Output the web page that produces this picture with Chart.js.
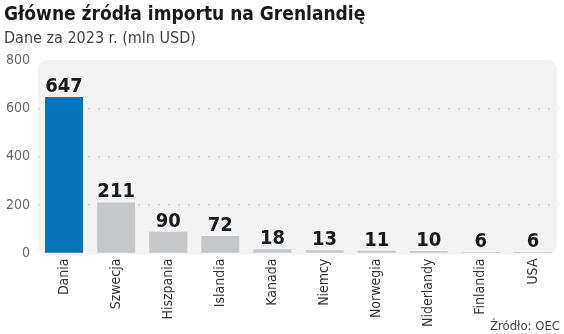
<!DOCTYPE html>
<html>
<head>
<meta charset="utf-8">
<script src="https://cdn.jsdelivr.net/npm/chart.js@4/dist/chart.umd.min.js"></script>
<style>
  html, body { margin: 0; padding: 0; background: #ffffff; }
  #wrap { width: 564px; height: 334px; position: relative; }
</style>
</head>
<body>
<div id="wrap"><canvas id="c" width="564" height="334"></canvas></div>
<script>
// Import sources, 2023, million USD
const countries = ['Dania', 'Szwecja', 'Hiszpania', 'Islandia', 'Kanada', 'Niemcy', 'Norwegia', 'Niderlandy', 'Finlandia', 'USA'];
const importValues = [647, 211, 90, 72, 18, 13, 11, 10, 6, 6];
const yTicks = [0, 200, 400, 600, 800];

const titleText = 'Główne źródła importu na Grenlandię';
const subtitleText = 'Dane za 2023 r. (mln USD)';
const sourceText = 'Źródło: OEC';

const FONT = '"DejaVu Sans Condensed", "DejaVu Sans", sans-serif';
const barColors = countries.map((c, i) => i === 0 ? '#0572b9' : '#c6c7c9');

// Rounded light panel behind the plot
const panelPlugin = {
  id: 'panel',
  beforeDraw(chart) {
    const { ctx, chartArea: a } = chart;
    ctx.save();
    ctx.fillStyle = '#f3f3f3';
    ctx.beginPath();
    ctx.roundRect(a.left, a.top, a.right - a.left - 2, a.bottom - a.top + 1, 9);
    ctx.fill();
    ctx.restore();
  }
};

// Headline, subtitle, source note and value labels
const textPlugin = {
  id: 'texts',
  afterDatasetsDraw(chart) {
    const { ctx } = chart;
    const meta = chart.getDatasetMeta(0);
    const data = chart.data.datasets[0].data;
    ctx.save();
    ctx.textAlign = 'center';
    ctx.textBaseline = 'alphabetic';
    ctx.fillStyle = '#1a1a1a';
    ctx.font = 'bold 20px ' + FONT;
    meta.data.forEach((bar, i) => {
      ctx.fillText(String(data[i]), bar.x, bar.y - 5);
    });
    ctx.restore();
  },
  afterDraw(chart) {
    const { ctx, width } = chart;
    ctx.save();
    ctx.textBaseline = 'alphabetic';
    ctx.textAlign = 'left';
    ctx.fillStyle = '#1a1a1a';
    ctx.font = 'bold 19px ' + FONT;
    ctx.fillText(titleText, 4, 20);
    ctx.fillStyle = '#444444';
    ctx.font = '16px ' + FONT;
    ctx.fillText(subtitleText, 4, 43);
    ctx.textAlign = 'right';
    ctx.font = '13px ' + FONT;
    ctx.fillText(sourceText, width - 4, 330);
    ctx.restore();
  }
};

new Chart(document.getElementById('c'), {
  type: 'bar',
  data: {
    labels: countries,
    datasets: [{
      data: importValues,
      backgroundColor: barColors,
      borderWidth: 0,
      barPercentage: 0.73,
      categoryPercentage: 1.0
    }]
  },
  options: {
    responsive: false,
    animation: false,
    devicePixelRatio: 1,
    layout: { padding: { top: 60, right: 5, bottom: 2, left: 0 } },
    plugins: {
      legend: { display: false },
      tooltip: { enabled: false },
      title: { display: false }
    },
    scales: {
      x: {
        grid: { display: false, drawTicks: false },
        border: { display: false },
        ticks: {
          minRotation: 90,
          maxRotation: 90,
          autoSkip: false,
          padding: 5,
          color: '#333333',
          font: { family: FONT, size: 14 }
        }
      },
      y: {
        min: 0,
        max: 800,
        afterBuildTicks(scale) { scale.ticks = yTicks.map(v => ({ value: v })); },
        afterFit(scale) { scale.width = 38; },
        grid: {
          drawTicks: false,
          color: ctx => (ctx.tick && ctx.tick.value > 0 && ctx.tick.value < 800) ? '#d4d4d4' : 'rgba(0,0,0,0)',
          lineWidth: 1.5
        },
        border: { display: false, dash: [2, 8] },
        ticks: {
          padding: 8,
          color: '#666666',
          font: { family: FONT, size: 14 }
        }
      }
    }
  },
  plugins: [panelPlugin, textPlugin]
});
</script>
</body>
</html>
